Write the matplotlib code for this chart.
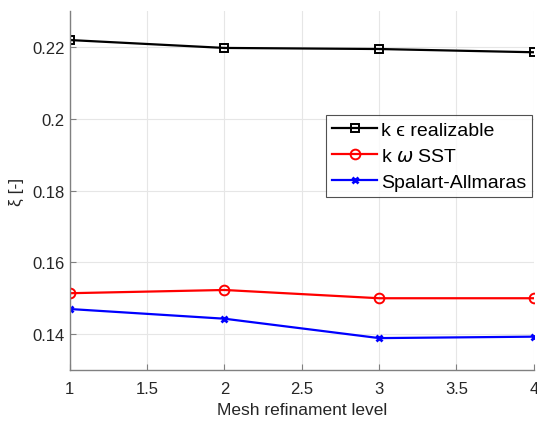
import matplotlib
matplotlib.use("Agg")
import matplotlib.pyplot as plt

plt.rcParams['font.family'] = ['Liberation Sans', 'DejaVu Sans']
plt.rcParams['mathtext.fontset'] = 'dejavusans'

levels = [1, 2, 3, 4]
k_eps = [0.2219, 0.2197, 0.2194, 0.2185]
k_omega = [0.1514, 0.1523, 0.1500, 0.1500]
spalart = [0.1470, 0.1443, 0.1389, 0.1393]

fig = plt.figure(figsize=(5.37, 4.27), dpi=100)
ax = fig.add_axes([0.130, 0.131, 0.864, 0.841])

ax.plot(levels, k_eps, '-s', color='black', lw=1.6, ms=6, mfc='none', mew=1.4,
        label='k \u03f5 realizable')
ax.plot(levels, k_omega, '-o', color='red', lw=1.6, ms=7, mfc='none', mew=1.4,
        label=r'k $\omega$ SST')
ax.plot(levels, spalart, '-x', color='blue', lw=1.6, ms=5, mew=2.0,
        label='Spalart-Allmaras')

ax.set_xlim(1, 4)
ax.set_ylim(0.13, 0.23)
ax.set_xticks([1, 1.5, 2, 2.5, 3, 3.5, 4])
ax.set_xticklabels(['1', '1.5', '2', '2.5', '3', '3.5', '4'])
ax.set_yticks([0.14, 0.16, 0.18, 0.2, 0.22])
ax.set_yticklabels(['0.14', '0.16', '0.18', '0.2', '0.22'])

ax.grid(True, color='#e6e6e6', lw=0.8)
ax.set_axisbelow(True)
for s in ['top', 'right']:
    ax.spines[s].set_visible(False)
for s in ['left', 'bottom']:
    ax.spines[s].set_color('#808080')
    ax.spines[s].set_linewidth(1.0)
ax.tick_params(colors='#262626', labelsize=12, length=4, direction='in', width=0.8)
ax.tick_params(axis='both', color='#808080')
ax.tick_params(axis='x', pad=8)

ax.set_xlabel('Mesh refinament level', fontsize=12.5, color='#262626', labelpad=4)
ax.set_ylabel('ξ [-]', fontsize=12.5, color='#262626', labelpad=6)

leg = ax.legend(loc='upper left', bbox_to_anchor=(0.553, 0.71), fontsize=14,
                frameon=True, fancybox=False, borderpad=0.3, labelspacing=0.45,
                handlelength=2.3, handletextpad=0.2, borderaxespad=0)
leg.get_frame().set_edgecolor('#262626')
leg.get_frame().set_linewidth(0.8)

fig.savefig('out.png', dpi=100)
